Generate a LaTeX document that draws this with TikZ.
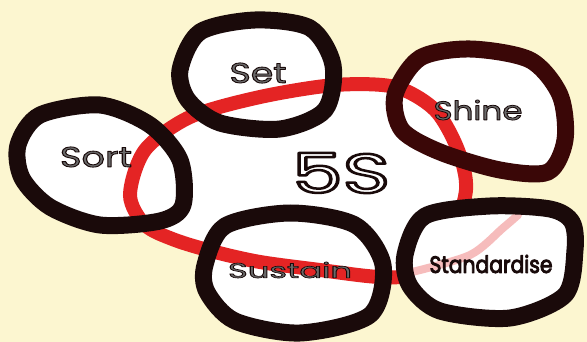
\documentclass[tikz,border=0pt]{standalone}
\usepackage{fontspec}
\setmainfont{Poppins}
\usepackage{graphicx}
\definecolor{cream}{HTML}{FCF6D0}
\definecolor{ringred}{HTML}{E42424}
\definecolor{inkA}{HTML}{1A0A0A}
\definecolor{inkShine}{HTML}{3A0707}
\definecolor{lblgray}{HTML}{6A6A6A}
% #1 fill colour, #2 stroke width, #3 text  (fill + stroke render mode)
\newcommand{\olt}[3]{{\color{#1}\special{pdf:literal direct 2 Tr #2 w 0.1 0.04 0.04 RG 1 j}#3\special{pdf:literal direct 0 Tr 0.4 w}}}
\begin{document}
\begin{tikzpicture}[x=1pt,y=-1pt,
  ring/.style={line width=17pt, line join=round},
  lbl/.style={inner sep=0pt, anchor=center}]
\useasboundingbox (0,0) rectangle (587,342);
\fill[cream] (0,0) rectangle (587,342);
% red ellipse interior
\fill[white] plot[smooth cycle] coordinates {(130,195) (145,150) (190,117) (260,97) (335,85) (395,87) (435,110) (458,150) (466,190) (450,240) (420,273) (380,277) (320,270) (260,262) (215,252) (175,240) (145,225)};
% loop fills
\fill[white] plot[smooth cycle] coordinates {(180,70) (200,32) (255,20) (310,28) (333,65) (325,110) (280,129) (220,123) (188,100)};
\fill[white] plot[smooth cycle] coordinates {(18,145) (40,115) (100,105) (150,125) (180,160) (183,205) (160,221) (100,225) (50,207) (22,178)};
\fill[white] plot[smooth cycle] coordinates {(395,95) (420,58) (470,49) (530,60) (560,95) (565,140) (548,172) (500,170) (440,152) (402,130)};
\fill[white] plot[smooth cycle] coordinates {(205,265) (225,226) (290,213) (355,225) (383,265) (370,315) (300,333) (235,321) (207,292)};
% red ring
\draw[ringred, line width=14pt] plot[smooth cycle] coordinates {(130,195) (145,150) (190,117) (260,97) (335,85) (395,87) (435,110) (458,150) (466,190) (450,240) (420,273) (380,277) (320,270) (260,262) (215,252) (175,240) (145,225)};
% Standardise fill over red
\fill[white] plot[smooth cycle] coordinates {(405,255) (425,216) (490,206) (550,209) (572,222) (575,250) (565,295) (510,318) (440,311) (410,286)};
\draw[ringred, opacity=0.3, line width=8pt, line cap=round] plot[smooth] coordinates {(412,272) (470,255) (503,228) (518,215)};
% black strokes
\draw[ring, inkA] plot[smooth cycle] coordinates {(180,70) (200,32) (255,20) (310,28) (333,65) (325,110) (280,129) (220,123) (188,100)};
\draw[ring, inkA] plot[smooth cycle] coordinates {(18,145) (40,115) (100,105) (150,125) (180,160) (183,205) (160,221) (100,225) (50,207) (22,178)};
\draw[ring, inkShine] plot[smooth cycle] coordinates {(395,95) (420,58) (470,49) (530,60) (560,95) (565,140) (548,172) (500,170) (440,152) (402,130)};
\draw[ring, inkA] plot[smooth cycle] coordinates {(205,265) (225,226) (290,213) (355,225) (383,265) (370,315) (300,333) (235,321) (207,292)};
\draw[ring, inkA] plot[smooth cycle] coordinates {(405,255) (425,216) (490,206) (550,209) (572,222) (575,250) (565,295) (510,318) (440,311) (410,286)};
% labels
\node[lbl] (t5s) at (341,173) {\resizebox{98pt}{40pt}{\olt{white}{0.45}{5S}}};
\node[lbl] (tset) at (258,73) {\resizebox{57pt}{20pt}{\olt{lblgray}{0.3}{Set}}};
\node[lbl] (tsort) at (96,157) {\resizebox{72pt}{20pt}{\olt{lblgray}{0.3}{Sort}}};
\node[lbl] (tshine) at (478,110) {\resizebox{89pt}{20pt}{\olt{lblgray}{0.3}{Shine}}};
\node[lbl] (tsustain) at (290,270) {\resizebox{124pt}{16pt}{\olt{lblgray}{0.3}{Sustain}}};
\node[lbl] (tstand) at (491,264) {\resizebox{123pt}{18pt}{\olt{inkA}{0.4}{Standardise}}};
\end{tikzpicture}
\end{document}
